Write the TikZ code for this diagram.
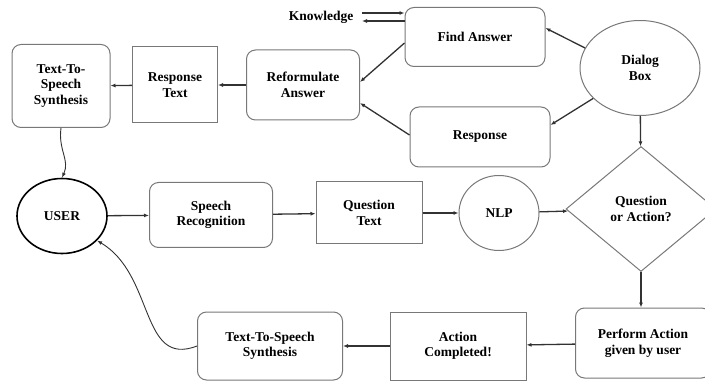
\documentclass[tikz,border=0pt]{standalone}
\usepackage{fontspec}
\setmainfont{Liberation Serif}
\usetikzlibrary{arrows.meta,positioning,shapes.geometric}
\definecolor{EdgeGray}{RGB}{120,120,120}
\definecolor{LineDark}{RGB}{50,50,50}

\begin{document}
\begin{tikzpicture}[x=1pt, y=-1pt,
            rbox/.style={draw=EdgeGray, line width=1pt, rounded corners=9pt,
                         align=center, inner sep=1pt,
                         font=\bfseries\fontsize{13.5}{15.5}\selectfont},
            sbox/.style={rbox, rounded corners=0pt},
            oval/.style={rbox, ellipse},
            choice/.style={rbox, diamond, rounded corners=0pt},
            arr/.style={-{Latex[length=5pt,width=4pt]}, line width=1.3pt, LineDark},
            curv/.style={-{Latex[length=5pt,width=4pt]}, line width=0.9pt, LineDark}
        ]
            \useasboundingbox (0,0) rectangle (705,385);

            % top row
            \node[rbox, minimum width=98, minimum height=83]  (ttstop)  at (61,86)   {Text-To-\\Speech\\Synthesis};
            \node[sbox, minimum width=85, minimum height=76]  (resptxt) at (175,85)  {Response\\Text};
            \node[rbox, minimum width=113, minimum height=70] (reform)  at (303,85)  {Reformulate\\Answer};
            \node[rbox, minimum width=140, minimum height=59] (find)    at (475,37)  {Find Answer};
            \node[rbox, minimum width=140, minimum height=60] (resp)    at (480,137) {Response};
            \node[oval, minimum width=120, minimum height=95] (dialog)  at (640,68)  {Dialog\\Box};
            \node[font=\bfseries\fontsize{13.5}{15.5}\selectfont] (know) at (321,17) {Knowledge};

            % middle row
            \node[oval, draw=black, line width=1.6pt, minimum width=90, minimum height=75] (user) at (62,216) {USER};
            \node[rbox, minimum width=123, minimum height=65] (speech)  at (211,215) {Speech\\Recognition};
            \node[sbox, minimum width=106, minimum height=62] (qtext)   at (369,213) {Question\\Text};
            \node[oval, minimum width=80, minimum height=75]  (nlp)     at (499,213) {NLP};
            \node[choice, minimum width=150, minimum height=125] (qa)   at (641,209) {Question\\or Action?};

            % bottom row
            \node[rbox, minimum width=135, minimum height=70] (perform) at (643,343) {Perform Action\\given by user};
            \node[sbox, minimum width=136, minimum height=68] (done)    at (458,346) {Action\\Completed!};
            \node[rbox, minimum width=145, minimum height=68] (ttsbot)  at (270,346) {Text-To-Speech\\Synthesis};

            \coordinate (kin)  at (362,13);
            \coordinate (kout) at (362,21);

            \draw[arr] (reform) -- (resptxt);
            \draw[arr] (resptxt) -- (ttstop);
            \draw[arr] ([yshift=-6pt]find.west) -- ([yshift=3pt]reform.east);
            \draw[arr] ([yshift=2pt]resp.west) -- ([yshift=-18pt]reform.east);
            \draw[arr] (dialog.160) -- ([yshift=9pt]find.east);
            \draw[arr] (dialog.213) -- ([yshift=12pt]resp.east);
            \draw[arr] (dialog) -- (qa);
            \draw[arr] (kin) -- (find.north west |- kin);
            \draw[arr] (find.north west |- kout) -- (kout);

            \draw[arr] (user) -- (speech);
            \draw[arr] (speech) -- (qtext);
            \draw[arr] (qtext) -- (nlp);
            \draw[arr] (nlp) -- (qa);
            \draw[arr] (qa.south) -- (perform.north -| qa.south);
            \draw[arr] (perform) -- (done);
            \draw[arr] (done) -- (ttsbot);

            \draw[curv] (ttstop.south) .. controls (58,150) and (70,160) .. (user.north);
            \draw[curv] (ttsbot.west) .. controls (140,368) and (155,275) .. (user.-35);
        \end{tikzpicture}
\end{document}
